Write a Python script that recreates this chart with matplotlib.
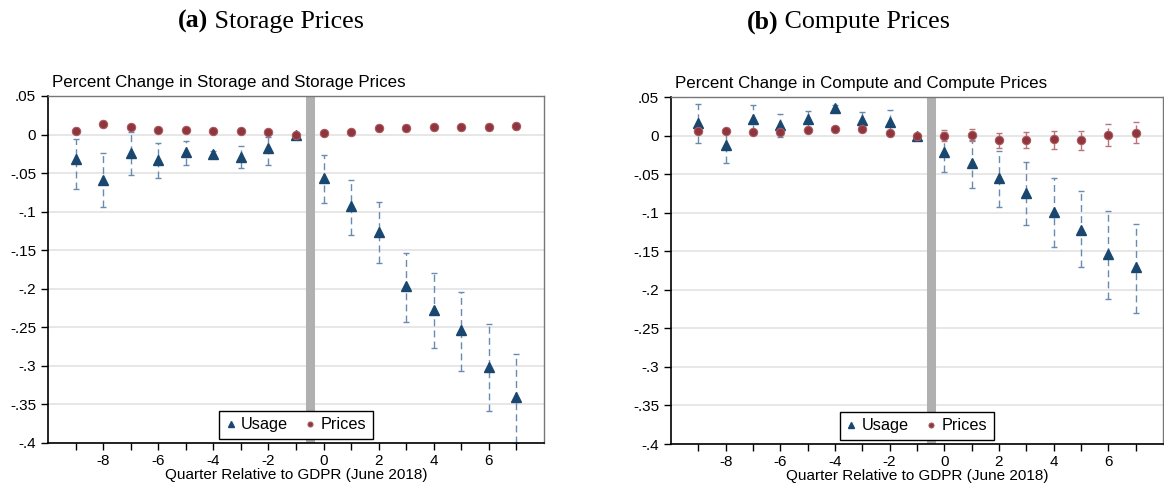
import matplotlib
matplotlib.use("Agg")
import matplotlib.pyplot as plt
import numpy as np

plt.rcParams['font.family'] = ['Liberation Sans', 'DejaVu Sans']

quarters = [-9, -8, -7, -6, -5, -4, -3, -2, -1, 0, 1, 2, 3, 4, 5, 6, 7]

# Panel (a) Storage
st_usage = [-0.032, -0.059, -0.024, -0.033, -0.023, -0.025, -0.029, -0.018, 0.0,
            -0.057, -0.093, -0.126, -0.197, -0.227, -0.254, -0.301, -0.341]
st_usage_hi = [-0.006, -0.024, 0.003, -0.011, -0.009, -0.021, -0.015, -0.003, 0.0,
               -0.026, -0.059, -0.087, -0.153, -0.180, -0.204, -0.246, -0.284]
st_usage_lo = [-0.070, -0.094, -0.053, -0.056, -0.039, -0.030, -0.044, -0.040, 0.0,
               -0.089, -0.130, -0.166, -0.243, -0.277, -0.306, -0.358, -0.400]
st_price = [0.005, 0.014, 0.010, 0.006, 0.006, 0.005, 0.004, 0.003, 0.0,
            0.002, 0.003, 0.008, 0.009, 0.010, 0.0095, 0.010, 0.011]
st_price_hi = [0.008, 0.018, 0.013, 0.008, 0.008, 0.007, 0.006, 0.005, 0.0,
               0.004, 0.006, 0.011, 0.013, 0.014, 0.013, 0.014, 0.015]
st_price_lo = [0.002, 0.010, 0.007, 0.004, 0.004, 0.003, 0.002, 0.001, 0.0,
               0.000, 0.000, 0.005, 0.005, 0.006, 0.006, 0.006, 0.007]

# Panel (b) Compute
cp_usage = [0.016, -0.012, 0.022, 0.014, 0.022, 0.036, 0.020, 0.018, 0.0,
            -0.021, -0.036, -0.055, -0.075, -0.099, -0.122, -0.154, -0.171]
cp_usage_hi = [0.041, 0.008, 0.039, 0.028, 0.032, 0.039, 0.030, 0.033, 0.0,
               0.005, -0.006, -0.020, -0.034, -0.055, -0.072, -0.098, -0.115]
cp_usage_lo = [-0.010, -0.036, 0.005, -0.002, 0.010, 0.033, 0.011, 0.003, 0.0,
               -0.047, -0.068, -0.092, -0.116, -0.145, -0.171, -0.212, -0.230]
cp_price = [0.006, 0.006, 0.004, 0.005, 0.007, 0.009, 0.008, 0.003, 0.0,
            0.000, 0.001, -0.006, -0.006, -0.005, -0.006, 0.001, 0.003]
cp_price_hi = [0.008, 0.008, 0.006, 0.007, 0.009, 0.011, 0.010, 0.005, 0.0,
               0.007, 0.009, 0.003, 0.004, 0.006, 0.006, 0.015, 0.017]
cp_price_lo = [0.004, 0.004, 0.002, 0.003, 0.005, 0.007, 0.006, 0.001, 0.0,
               -0.007, -0.007, -0.016, -0.016, -0.017, -0.019, -0.014, -0.010]

panel_titles = ["(a)", "(b)"]
panel_names = [" Storage Prices", " Compute Prices"]
subtitles = ["Percent Change in Storage and Storage Prices",
             "Percent Change in Compute and Compute Prices"]
xlabel = "Quarter Relative to GDPR (June 2018)"
ytick_vals = [0.05, 0, -0.05, -0.1, -0.15, -0.2, -0.25, -0.3, -0.35, -0.4]
ytick_labels = [".05", "0", "-.05", "-.1", "-.15", "-.2", "-.25", "-.3", "-.35", "-.4"]
xtick_major = [-8, -6, -4, -2, 0, 2, 4, 6]
legend_labels = ["Usage", "Prices"]

NAVY = '#1a476f'
NAVY_CI = '#6a8bb0'
MAROON = '#90353b'
MAROON_CI = '#b8747a'

fig = plt.figure(figsize=(11.64, 4.86), dpi=100)
axes_pos = [[0.0412, 0.0885, 0.4262, 0.714], [0.5765, 0.0864, 0.4225, 0.714]]
title_centers = [270 / 1164, 848 / 1164]
data = [(st_usage, st_usage_lo, st_usage_hi, st_price, st_price_lo, st_price_hi),
        (cp_usage, cp_usage_lo, cp_usage_hi, cp_price, cp_price_lo, cp_price_hi)]

TFS = 18.7
x = np.array(quarters, dtype=float)
for i in range(2):
    u, ulo, uhi, p, plo, phi = [np.array(a) for a in data[i]]
    ax = fig.add_axes(axes_pos[i])
    ax.set_xlim(-10, 8)
    ax.set_ylim(-0.4, 0.05)
    for yv in ytick_vals:
        ax.axhline(yv, color='#e3e3e3', lw=1.2, zorder=0)
    ax.axvline(-0.5, color='#b0b0b0', lw=6.5, zorder=1)

    eb = ax.errorbar(x, u, yerr=[u - ulo, uhi - u], fmt='none', ecolor=NAVY_CI,
                     elinewidth=1.0, capsize=2, capthick=1.0, zorder=2)
    eb[2][0].set_linestyle((0, (5, 3)))
    eb2 = ax.errorbar(x, p, yerr=[p - plo, phi - p], fmt='none', ecolor=MAROON_CI,
                      elinewidth=1.0, capsize=2, capthick=1.0, zorder=2)
    eb2[2][0].set_linestyle((0, (5, 3)))
    h1, = ax.plot(x, u, linestyle='none', marker='^', ms=7, color=NAVY, mec=NAVY, zorder=3,
                  label=legend_labels[0])
    h2, = ax.plot(x, p, linestyle='none', marker='o', ms=6, color=MAROON, mec='#a85a60', mew=0.8,
                  zorder=3, label=legend_labels[1])

    ax.set_yticks(ytick_vals)
    ax.set_yticklabels(ytick_labels)
    ax.set_xticks(quarters)
    ax.set_xticklabels([str(q) if q in xtick_major else "" for q in quarters])
    ax.tick_params(axis='both', direction='out', length=5, width=1, labelsize=11, colors='black')
    ax.tick_params(axis='x', pad=3)
    ax.set_xlabel(xlabel, fontsize=11, labelpad=0)
    for s in ['left', 'bottom']:
        ax.spines[s].set_color('black')
        ax.spines[s].set_linewidth(1.2)
    for s in ['top', 'right']:
        ax.spines[s].set_color('#777777')
        ax.spines[s].set_linewidth(1.0)
    ax.text(4 / 496, 1.0 + 6 / 347, subtitles[i], transform=ax.transAxes,
            ha='left', va='bottom', fontsize=12.2)

    leg = ax.legend(handles=[h1, h2], loc='lower center', ncol=2, fontsize=11.7,
                    frameon=True, fancybox=False, edgecolor='black', framealpha=1,
                    markerscale=0.6, handlelength=0.6, handletextpad=0.35,
                    columnspacing=1.05, borderpad=0.4, borderaxespad=0,
                    bbox_to_anchor=(0.5, 0.012))
    leg.get_frame().set_linewidth(1.0)

    cx = title_centers[i]
    t1 = fig.text(cx, 0.955, panel_titles[i] + panel_names[i], ha='center', va='center',
                  fontsize=TFS, family='Liberation Serif', color='white')
    fig.canvas.draw()
    r = fig.canvas.get_renderer()
    bb = t1.get_window_extent(r)
    t1.remove()
    left_px = bb.x0
    ta = fig.text(left_px / fig.bbox.width, 0.955, panel_titles[i], ha='left', va='center',
                  fontsize=TFS, family='Liberation Serif', weight='bold')
    bba = ta.get_window_extent(r)
    fig.text(bba.x1 / fig.bbox.width, 0.955, panel_names[i], ha='left', va='center',
             fontsize=TFS, family='Liberation Serif')

fig.savefig("out.png", dpi=100)
